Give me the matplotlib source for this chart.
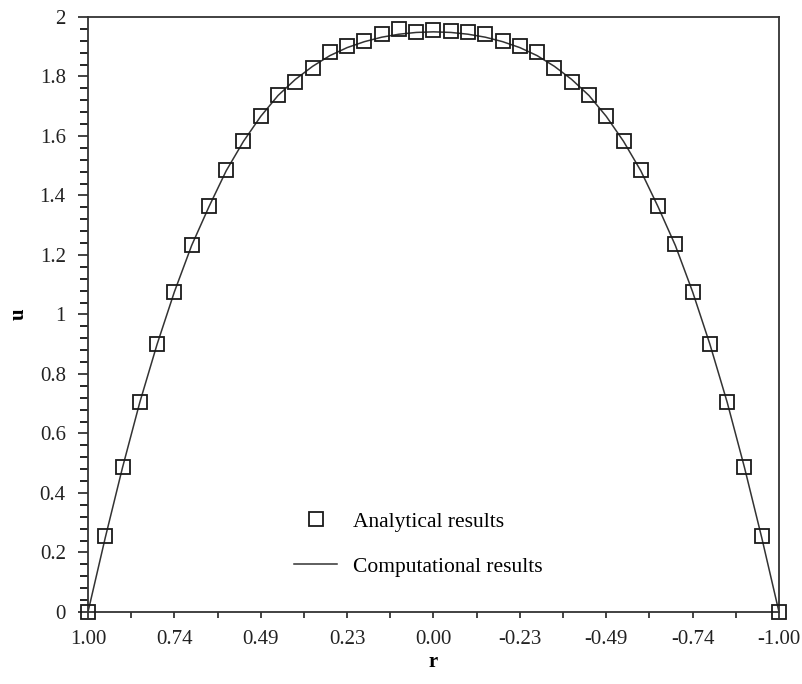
import numpy as np
import matplotlib
matplotlib.use("Agg")
import matplotlib.pyplot as plt
from matplotlib.ticker import MultipleLocator, FuncFormatter

plt.rcParams['font.family'] = ['Liberation Serif', 'DejaVu Serif']

# velocity, 41 radial stations from r = 1 to r = -1
u_analytical = [0.0, 0.255, 0.488, 0.707, 0.900, 1.077, 1.234, 1.363, 1.486, 1.582,
                1.668, 1.738, 1.782, 1.829, 1.883, 1.904, 1.920, 1.942, 1.959, 1.951,
                1.956, 1.954, 1.951, 1.942, 1.920, 1.904, 1.883, 1.830, 1.782, 1.738,
                1.668, 1.582, 1.486, 1.365, 1.236, 1.077, 0.900, 0.707, 0.488, 0.255, 0.0]

u_computational = [0.0, 0.250, 0.486, 0.705, 0.900, 1.076, 1.232, 1.362, 1.483, 1.582,
                   1.666, 1.736, 1.790, 1.834, 1.870, 1.897, 1.917, 1.932, 1.942, 1.948,
                   1.950, 1.948, 1.942, 1.932, 1.917, 1.897, 1.870, 1.834, 1.790, 1.736,
                   1.666, 1.582, 1.483, 1.362, 1.232, 1.076, 0.900, 0.705, 0.486, 0.250, 0.0]

r_labels = ["1.00", "0.74", "0.49", "0.23", "0.00", "-0.23", "-0.49", "-0.74", "-1.00"]

idx = np.arange(len(u_analytical))

fig = plt.figure(figsize=(8.03, 6.84), dpi=100)
ax = fig.add_axes([0.1096, 0.1053, 0.8605, 0.8699])

ax.plot(idx, u_computational, color='#333333', lw=1.1, label='Computational results', zorder=2)
ax.plot(idx, u_analytical, ls='none', marker='s', ms=9.5, mfc='none', mec='#1a1a1a',
        mew=1.3, label='Analytical results', zorder=3, clip_on=False)

ax.set_xlim(0, len(idx) - 1)
ax.set_ylim(0, 2)

ax.set_xticks(idx[::5])
ax.set_xticklabels(r_labels)
ax.xaxis.set_minor_locator(MultipleLocator(2.5))
ax.yaxis.set_major_locator(MultipleLocator(0.2))
ax.yaxis.set_minor_locator(MultipleLocator(0.04))
ax.yaxis.set_major_formatter(FuncFormatter(lambda v, p: f"{v:.1f}".rstrip('0').rstrip('.')))

ax.tick_params(axis='x', which='both', direction='out', length=4, width=1.2, pad=9,
               labelsize=15, colors='#222222')
ax.tick_params(axis='y', which='major', direction='out', length=7, width=1.2, pad=9,
               labelsize=15, colors='#222222')
ax.tick_params(axis='y', which='minor', direction='out', length=6, width=1.2)

for s in ax.spines.values():
    s.set_linewidth(1.3)
    s.set_color('#333333')

ax.set_xlabel('r', fontsize=15, fontweight='bold', labelpad=2)
ax.set_ylabel('u', fontsize=15, fontweight='bold', labelpad=8)

h, l = ax.get_legend_handles_labels()
ax.legend(h[::-1], l[::-1], loc='center', bbox_to_anchor=(0.478, 0.114), frameon=False,
          fontsize=15.5, handlelength=2.0, labelspacing=1.15, handletextpad=0.7, numpoints=1)

fig.savefig('out.png', dpi=100)
